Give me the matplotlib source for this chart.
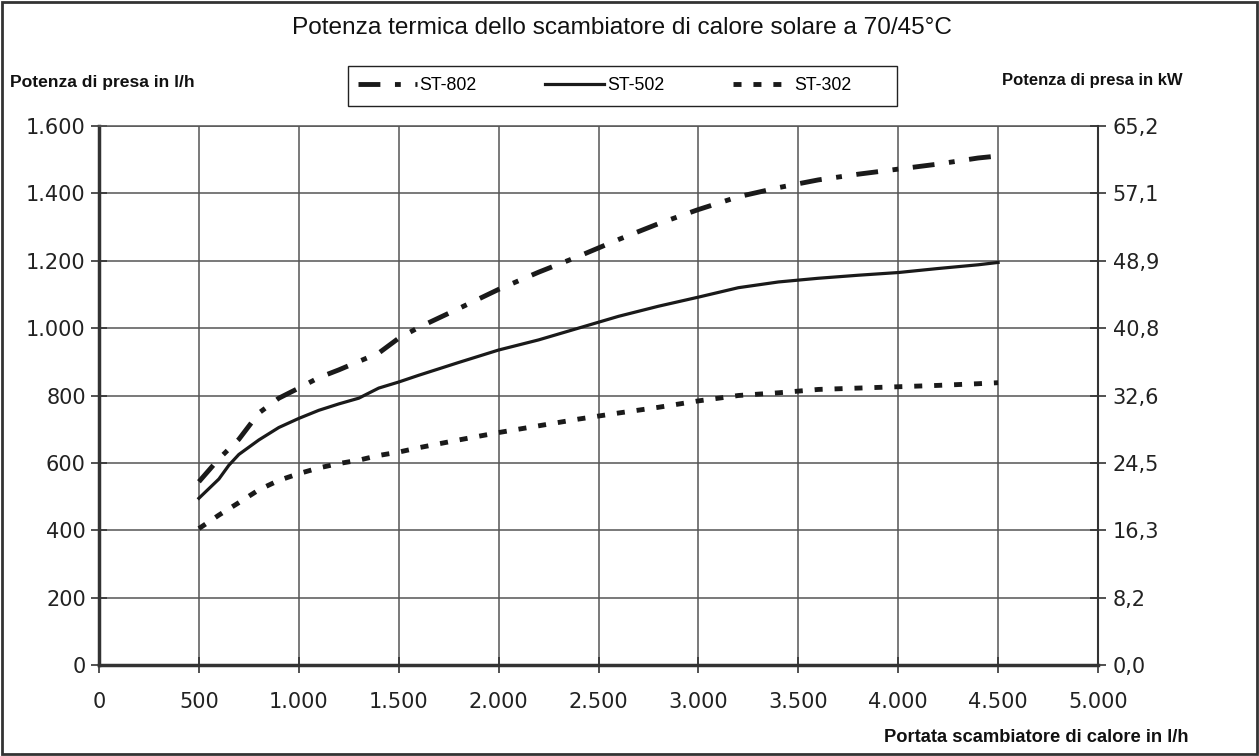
import matplotlib
matplotlib.use("Agg")
import matplotlib.pyplot as plt
from matplotlib.patches import Rectangle

# flow through the heat exchanger (l/h)
x_st802 = [500, 600, 700, 800, 900, 1000, 1100, 1200, 1400, 1500, 1600, 1800, 2000,
           2200, 2400, 2600, 2800, 3000, 3200, 3400, 3600, 3800, 4000, 4200, 4400, 4500]
y_st802 = [544, 612, 670, 748, 792, 822, 853, 876, 926, 970, 1002, 1058, 1115,
           1166, 1213, 1263, 1310, 1352, 1390, 1417, 1440, 1457, 1472, 1487, 1505, 1511]

x_st502 = [500, 600, 650, 700, 800, 900, 1000, 1100, 1200, 1300, 1400, 1500, 1600, 1800,
           2000, 2200, 2400, 2600, 2800, 3000, 3200, 3400, 3600, 3800, 4000, 4200, 4400, 4500]
y_st502 = [495, 552, 593, 625, 668, 705, 732, 756, 775, 792, 822, 840, 860, 898,
           935, 965, 1000, 1035, 1065, 1092, 1120, 1137, 1148, 1157, 1165, 1177, 1188, 1195]

x_st302 = [500, 600, 700, 800, 900, 1000, 1100, 1200, 1300, 1400, 1500, 1600, 1800, 2000,
           2200, 2400, 2600, 2800, 3000, 3200, 3400, 3600, 3800, 4000, 4200, 4400, 4500]
y_st302 = [405, 445, 482, 520, 548, 568, 585, 598, 608, 622, 632, 645, 668, 690,
           710, 730, 748, 765, 784, 800, 808, 818, 822, 826, 830, 835, 838]

x_ticks = [0, 500, 1000, 1500, 2000, 2500, 3000, 3500, 4000, 4500, 5000]
x_labels = ['0', '500', '1.000', '1.500', '2.000', '2.500', '3.000', '3.500', '4.000', '4.500', '5.000']
y_ticks = [0, 200, 400, 600, 800, 1000, 1200, 1400, 1600]
y_labels = ['0', '200', '400', '600', '800', '1.000', '1.200', '1.400', '1.600']
kw_labels = ['0,0', '8,2', '16,3', '24,5', '32,6', '40,8', '48,9', '57,1', '65,2']

narrow = ['Liberation Sans Narrow', 'Liberation Sans', 'DejaVu Sans']

fig = plt.figure(figsize=(12.59, 7.56), dpi=100)
ax = fig.add_axes([99/1259, 1 - 665/756, 999/1259, 539/756])

lw = 3.5
ax.plot(x_st802, y_st802, color='#1a1a1a', lw=lw, dash_capstyle='butt',
        linestyle=(0, (4.5, 3, 1.2, 3)), label='ST-802')
ax.plot(x_st502, y_st502, color='#1a1a1a', lw=2.3, label='ST-502')
ax.plot(x_st302, y_st302, color='#1a1a1a', lw=lw, dash_capstyle='butt',
        linestyle=(0, (1.65, 2.45)), label='ST-302')

ax.set_xlim(0, 5000)
ax.set_ylim(0, 1600)
ax.set_xticks(x_ticks)
ax.set_xticklabels(x_labels)
ax.set_yticks(y_ticks)
ax.set_yticklabels(y_labels)
ax.grid(True, color='#555555', lw=1.1)
ax.set_axisbelow(True)

for side in ['left', 'bottom']:
    ax.spines[side].set_linewidth(2.5)
    ax.spines[side].set_color('#333333')
for side in ['top', 'right']:
    ax.spines[side].set_linewidth(1.1)
    ax.spines[side].set_color('#555555')

ax.tick_params(axis='both', direction='inout', length=11, width=1.2, color='#333333',
               labelsize=15, labelcolor='#222222')
ax.tick_params(axis='x', pad=14)
ax.tick_params(axis='y', pad=4)

ax2 = ax.twinx()
ax2.set_ylim(0, 1600)
ax2.set_yticks(y_ticks)
ax2.set_yticklabels(kw_labels)
ax2.spines['right'].set_linewidth(1.5)
ax2.spines['right'].set_color('#333333')
for side in ['left', 'top', 'bottom']:
    ax2.spines[side].set_visible(False)
ax2.tick_params(axis='y', direction='inout', length=11, width=1.2, color='#333333',
                labelsize=15, labelcolor='#222222', pad=5)

# legend entries without frame, box drawn separately (Excel style, extra room on the right)
leg = ax.legend(loc='center left', bbox_to_anchor=(358/1259, 1 - 86/756), bbox_transform=fig.transFigure,
                ncol=3, frameon=False, handlelength=3.3, handletextpad=0.17,
                columnspacing=3.85, borderpad=0, borderaxespad=0,
                prop={'family': narrow, 'size': 12.8})
fig.patches.append(Rectangle((348/1259, 1 - 106/756), 549/1259, 40/756, transform=fig.transFigure,
                             fill=False, edgecolor='#222222', lw=1.0))

fig.text(622/1259, 1 - 28/756, 'Potenza termica dello scambiatore di calore solare a 70/45°C',
         ha='center', va='center', fontsize=17.6, family=narrow, color='#111111')
fig.text(10/1259, 1 - 82/756, 'Potenza di presa in l/h', ha='left', va='center',
         fontsize=12.6, family=narrow, weight='bold', color='#111111')
fig.text(1183/1259, 1 - 80/756, 'Potenza di presa in kW', ha='right', va='center',
         fontsize=12, family=narrow, weight='bold', color='#111111')
fig.text(1188/1259, 1 - 738/756, 'Portata scambiatore di calore in l/h', ha='right', va='center',
         fontsize=13.2, family=narrow, weight='bold', color='#111111')

fig.patches.append(Rectangle((2/1259, 2/756), 1 - 4/1259, 1 - 4/756, transform=fig.transFigure,
                             fill=False, edgecolor='#333333', lw=2))

fig.savefig('out.png', dpi=100)
